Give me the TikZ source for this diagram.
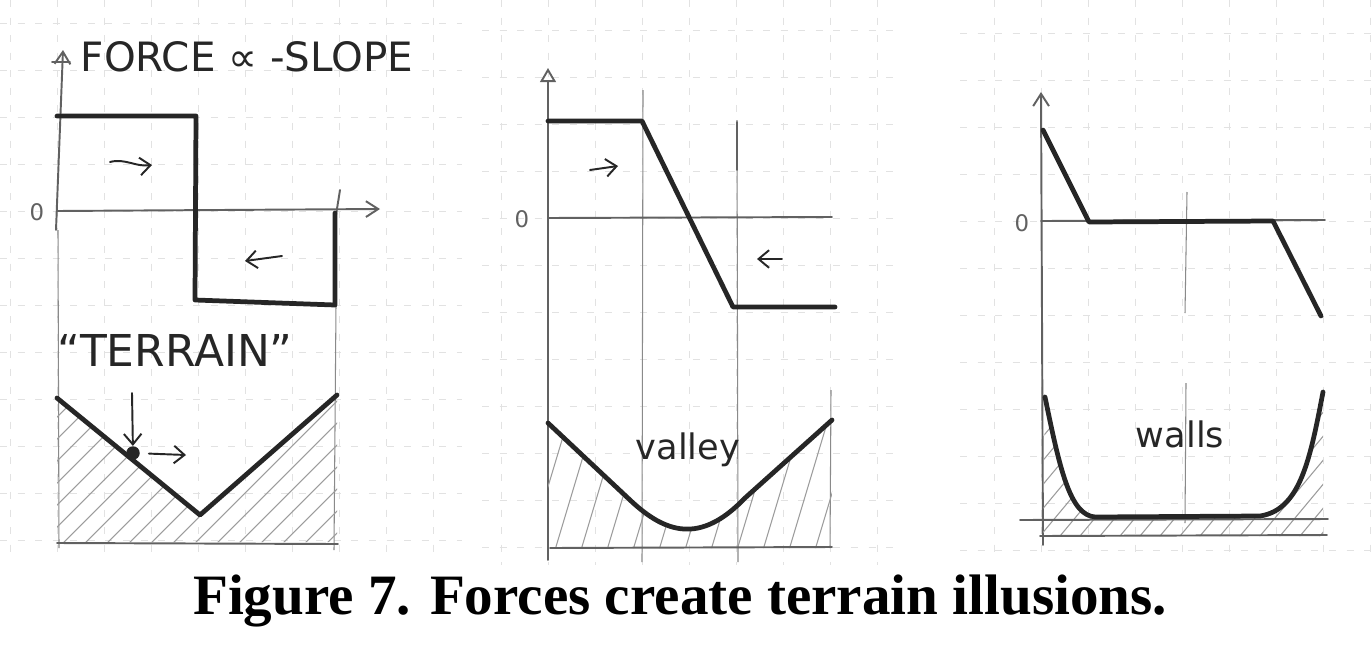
\documentclass[tikz,border=0pt]{standalone}
\usepackage{fontspec}
\setmainfont{Liberation Serif}
\newfontfamily\handfont{DejaVu Sans}
\usetikzlibrary{arrows.meta, positioning, calc}
\definecolor{pencilColor}{HTML}{262626}
\definecolor{guideColor}{HTML}{8A8A8A}
\definecolor{paperColor}{HTML}{E2E2E2}

\begin{document}
\begin{tikzpicture}[
    x=0.02cm, y=-0.02cm,
    paper/.style={draw=paperColor, line width=0.5pt, dash pattern=on 4pt off 6pt},
    axis/.style={draw=guideColor!70!black, line width=1.1pt, line cap=round},
    guide/.style={draw=guideColor, line width=0.6pt},
    curve/.style={draw=pencilColor, line width=2.7pt, line cap=round, line join=round},
    hatch/.style={draw=guideColor!85, line width=0.6pt},
    push/.style={draw=pencilColor, line width=1.1pt, line cap=round, -{Straight Barb[length=6pt, width=10pt]}},
    axistip/.style={-{Straight Barb[length=7pt, width=9pt]}},
    hand/.style={font=\handfont\fontsize{20}{22}\selectfont, text=pencilColor, inner sep=0pt},
    zero/.style={font=\handfont\fontsize{13}{14}\selectfont, text=guideColor!70!black, inner sep=0pt},
    ball/.style={circle, fill=pencilColor, inner sep=0pt, minimum size=0.27cm},
    caption/.style={font=\bfseries\fontsize{32.5}{34}\selectfont, inner sep=0pt, anchor=base}
]
\fill[white] (0,0) rectangle (1372,656);
\useasboundingbox (0,0) rectangle (1372,656);

% squared paper, one sheet per panel
\begin{scope}
  \clip (0,0) rectangle (462,560);
  \foreach \gx in {10,57,...,460} \draw[paper] (\gx,0) -- (\gx,560);
  \foreach \gy in {23,70,...,560} \draw[paper] (0,\gy) -- (462,\gy);
\end{scope}
\begin{scope}
  \clip (482,0) rectangle (900,565);
  \foreach \gx in {501,548,...,900} \draw[paper] (\gx,0) -- (\gx,565);
  \foreach \gy in {30,77,...,565} \draw[paper] (482,\gy) -- (900,\gy);
\end{scope}
\begin{scope}
  \clip (960,0) rectangle (1372,560);
  \foreach \gx in {994,1041,...,1372} \draw[paper] (\gx,0) -- (\gx,560);
  \foreach \gy in {33,80,...,560} \draw[paper] (960,\gy) -- (1372,\gy);
\end{scope}

% ---- panel 1: step force, V terrain
\node[hand, font=\handfont\fontsize{23}{25}\selectfont] (forceTitle) at (247,57) {FORCE ∝ -SLOPE};
\node[zero] (zeroA) at (37,212) {0};
\draw[axis, axistip] (56,230) -- (63,50);
\draw[axis] (52,62) -- (70,62);
\draw[axis, axistip] (57,211) -- (380,209);
\draw[guide] (58,230) -- (59,548);
\draw[guide] (336,305) -- (334,550);
\draw[axis] (340,190) -- (336,215);
\draw[curve] (57,116) -- (196,116) -- (195,300) -- (335,305) -- (335,213);
\draw[push] (110,162) .. controls (125,158) and (135,167) .. (152,165);
\draw[push] (282,256) -- (245,261);

\node[hand, font=\handfont\fontsize{25}{27}\selectfont] (terrainTitle) at (175,350) {“TERRAIN”};
\begin{scope}
  \clip (57,398) -- (200,515) -- (337,395) -- (337,542) -- (57,542) -- cycle;
  \foreach \hx in {-130,-108,...,330} \draw[hatch] (\hx,560) -- ++(200,-200);
\end{scope}
\draw[axis] (57,543) -- (338,544);
\draw[curve] (57,398) -- (200,515) -- (337,395);
\node[ball] (ball) at (133,453) {};
\coordinate (drop) at (132,393);
\coordinate (roll) at (186,455);
\draw[push] (drop) -- (ball);
\draw[push, shorten <=5pt] (ball) -- (roll);

% ---- panel 2: ramp force, valley
\node[zero] (zeroB) at (522,219) {0};
\draw[axis, -{Triangle[open, length=8pt, width=9pt]}] (548,560) -- (548,68);
\draw[guide] (643,90) -- (642,562);
\draw[guide] (737,120) -- (738,562);
\draw[axis] (737,122) -- (737,170);
\draw[guide] (831,390) -- (830,548);
\draw[axis] (548,218) -- (832,217);
\draw[curve] (548,121) -- (642,121) -- (733,307) -- (835,307);
\draw[push] (590,170) -- (618,166);
\draw[push] (782,259) -- (757,259);

\begin{scope}
  \clip (548,423) -- (630,500) .. controls (665,533) and (700,545) .. (745,498)
        -- (832,420) -- (832,548) -- (548,548) -- cycle;
  \foreach \hx in {500,526,...,860} \draw[hatch] (\hx,560) -- ++(45,-150);
\end{scope}
\draw[axis] (550,548) -- (832,547);
\draw[curve] (548,423) -- (630,500) .. controls (665,533) and (700,545) .. (745,498) -- (832,420);
\node[hand] (valleyText) at (688,450) {valley};

% ---- panel 3: wall forces, flat floor
\node[zero] (zeroC) at (1022,223) {0};
\draw[axis, axistip] (1043,545) -- (1041,92);
\draw[axis] (1041,221) -- (1325,220);
\draw[guide] (1187,192) -- (1185,313);
\draw[guide] (1186,383) -- (1185,523);
\draw[curve] (1043,130) -- (1089,222) -- (1273,221) -- (1321,316);

\begin{scope}
  \clip (1045,397) .. controls (1060,470) and (1070,515) .. (1095,517)
        -- (1260,516) .. controls (1300,510) and (1310,460) .. (1323,392)
        -- (1323,536) -- (1043,536) -- cycle;
  \foreach \hx in {900,920,...,1340} \draw[hatch] (\hx,560) -- ++(150,-180);
\end{scope}
\draw[axis] (1020,520) -- (1328,519);
\draw[axis] (1040,536) -- (1327,535);
\draw[curve] (1045,397) .. controls (1060,470) and (1070,515) .. (1095,517)
      -- (1260,516) .. controls (1300,510) and (1310,460) .. (1323,392);
\node[hand] (wallsText) at (1180,434) {walls};

% caption
\node[caption] (figCaption) at (680,614) {Figure 7. Forces create terrain illusions.};
\end{tikzpicture}
\end{document}
